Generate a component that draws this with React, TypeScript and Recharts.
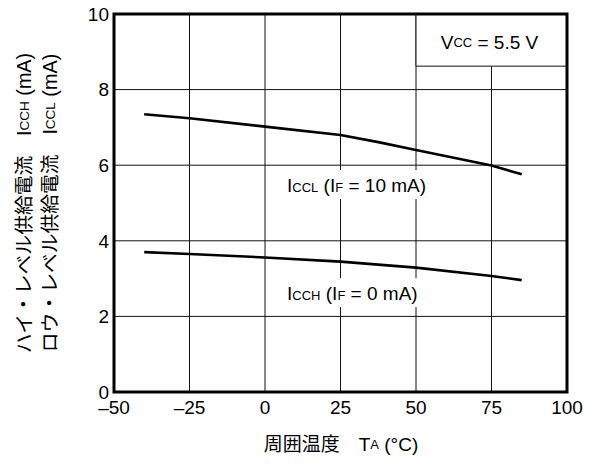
import React from "react";
import {
  LineChart,
  Line,
  XAxis,
  YAxis,
  CartesianGrid,
  ReferenceArea,
  ReferenceDot,
} from "recharts";

// ---- data ----
const xTicks = [-50, -25, 0, 25, 50, 75, 100];
const yTicks = [0, 2, 4, 6, 8, 10];

const tempsL = [-40, -25, 0, 25, 37.5, 50, 75, 85];
const icclValues = [7.35, 7.24, 7.02, 6.8, 6.61, 6.4, 5.99, 5.76];

const tempsH = [-40, -25, 0, 25, 50, 75, 85];
const icchValues = [3.7, 3.65, 3.56, 3.45, 3.29, 3.07, 2.96];

const vccBox = { x1: 50, x2: 100, y1: 8.62, y2: 10 };
const icclLabelAt = { x: 7.3, y: 5.29 };
const icchLabelAt = { x: 7.3, y: 2.43 };

const icclData = tempsL.map((t, i) => ({ t, v: icclValues[i] }));
const icchData = tempsH.map((t, i) => ({ t, v: icchValues[i] }));

// ---- styles ----
const FONT = "'Liberation Sans', Arial, 'Noto Sans CJK JP', sans-serif";
const FS = 19;
const SMALL = 13;
const YFS = 19.8;

const makeCurveLabel = (sub: string, rest: string, w: number) => (props: any) => {
  const vb = props.viewBox || {};
  const x = vb.x ?? 0;
  const y = vb.y ?? 0;
  return (
    <g>
      <rect x={x - 5} y={y - 22} width={w} height={29} fill="#fff" />
      <text x={x} y={y} fontSize={FS} fontFamily={FONT} fill="#000">
        I<tspan fontSize={SMALL}>{sub}</tspan>
        {" (I"}
        <tspan fontSize={SMALL}>F</tspan>
        {rest}
      </text>
    </g>
  );
};

const IcclLabel = makeCurveLabel("CCL", " = 10 mA)", 160);
const IcchLabel = makeCurveLabel("CCH", " = 0 mA)", 150);

const VccLabel = (props: any) => {
  const vb = props.viewBox || {};
  const cx = (vb.x ?? 0) + (vb.width ?? 0) / 2 - 2;
  const cy = (vb.y ?? 0) + (vb.height ?? 0) / 2 + 2;
  return (
    <text
      x={cx}
      y={cy}
      textAnchor="middle"
      dominantBaseline="central"
      fontSize={FS}
      fontFamily={FONT}
      fill="#000"
    >
      V<tspan fontSize={SMALL}>CC</tspan>
      {" = 5.5 V"}
    </text>
  );
};

const YTitle = () => (
  <g>
    <text
      transform="translate(24,203) rotate(-90)"
      textAnchor="middle"
      dominantBaseline="central"
      fontSize={YFS}
      fontFamily={FONT}
      fill="#000"
    >
      ハイ・レベル供給電流　I<tspan fontSize={13.5}>CCH</tspan>
      {" (mA)"}
    </text>
    <text
      transform="translate(50,203) rotate(-90)"
      textAnchor="middle"
      dominantBaseline="central"
      fontSize={YFS}
      fontFamily={FONT}
      fill="#000"
    >
      ロウ・レベル供給電流　I<tspan fontSize={13.5}>CCL</tspan>
      {" (mA)"}
    </text>
  </g>
);

const XTitle = () => (
  <text
    x={341}
    y={444}
    textAnchor="middle"
    dominantBaseline="central"
    fontSize={FS}
    fontFamily={FONT}
    fill="#000"
  >
    周囲温度　T<tspan fontSize={SMALL}>A</tspan>
    {" (°C)"}
  </text>
);

export default function App() {
  return (
    <div style={{ position: "absolute", left: 0, top: 0, background: "#fff" }}>
      <LineChart
        width={595}
        height={465}
        margin={{ top: 14, right: 28, bottom: 43, left: 54 }}
      >
        <CartesianGrid stroke="#111" strokeWidth={1} />
        <XAxis
          type="number"
          dataKey="t"
          domain={[-50, 100]}
          ticks={xTicks}
          allowDataOverflow
          height={30}
          tickSize={0}
          tickMargin={9}
          axisLine={false}
          tickLine={false}
          tickFormatter={(v: number) => (v < 0 ? "\u2013" + Math.abs(v) : String(v))}
          tick={{ fill: "#000", fontSize: FS, fontFamily: FONT }}
          label={{ content: XTitle }}
        />
        <YAxis
          type="number"
          domain={[0, 10]}
          ticks={yTicks}
          allowDataOverflow
          width={60}
          tickSize={0}
          tickMargin={5}
          axisLine={false}
          tickLine={false}
          tick={{ fill: "#000", fontSize: FS, fontFamily: FONT }}
          label={{ content: YTitle }}
        />
        <ReferenceArea
          x1={vccBox.x1}
          x2={vccBox.x2}
          y1={vccBox.y1}
          y2={vccBox.y2}
          fill="#fff"
          fillOpacity={1}
          stroke="#111"
          strokeWidth={1}
          label={{ content: VccLabel }}
        />
        <ReferenceDot
          x={icclLabelAt.x}
          y={icclLabelAt.y}
          r={0}
          fill="none"
          stroke="none"
          label={{ content: IcclLabel }}
        />
        <ReferenceDot
          x={icchLabelAt.x}
          y={icchLabelAt.y}
          r={0}
          fill="none"
          stroke="none"
          label={{ content: IcchLabel }}
        />
        <ReferenceArea
          x1={-50}
          x2={100}
          y1={0}
          y2={10}
          fill="none"
          stroke="#000"
          strokeWidth={3}
        />
        <Line
          data={icclData}
          dataKey="v"
          type="linear"
          stroke="#000"
          strokeWidth={2.6}
          dot={false}
          isAnimationActive={false}
        />
        <Line
          data={icchData}
          dataKey="v"
          type="linear"
          stroke="#000"
          strokeWidth={2.6}
          dot={false}
          isAnimationActive={false}
        />
      </LineChart>
    </div>
  );
}
